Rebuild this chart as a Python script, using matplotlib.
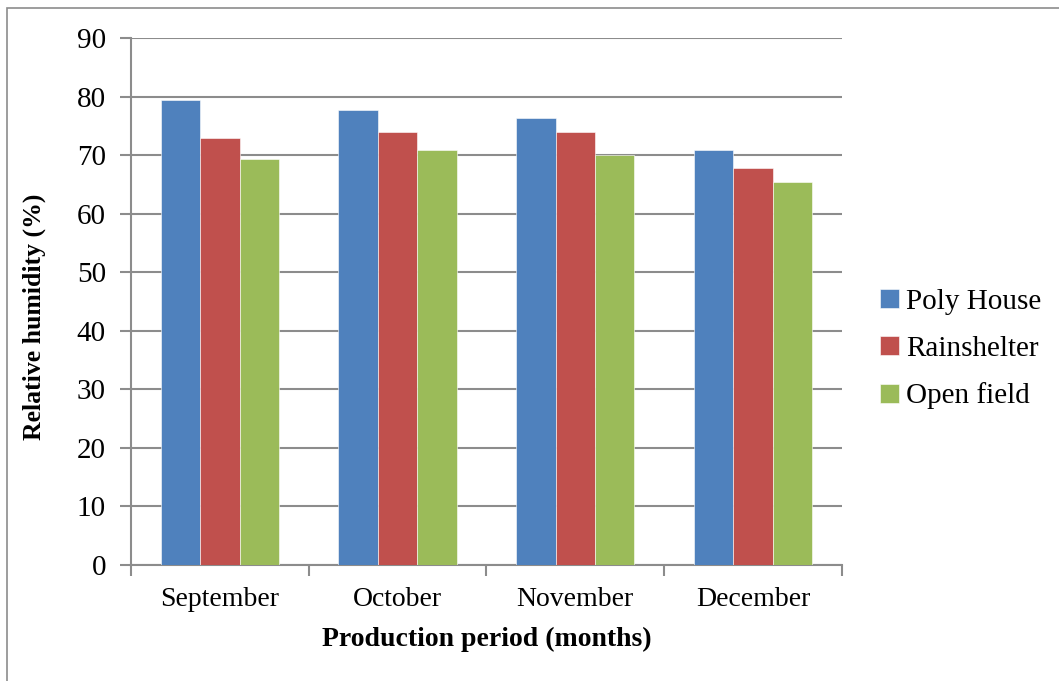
import numpy as np
import matplotlib
matplotlib.use("Agg")
import matplotlib.pyplot as plt
from matplotlib.patches import Rectangle

# Humedad relativa media por mes y tipo de cultivo
months = ["September", "October", "November", "December"]
poly_house = [79.4, 77.7, 76.4, 70.9]
rainshelter = [72.9, 74.0, 73.9, 67.9]
open_field = [69.4, 70.9, 70.0, 65.4]

series = [("Poly House", poly_house, "#4f81bd"),
          ("Rainshelter", rainshelter, "#c0504d"),
          ("Open field", open_field, "#9bbb59")]

plt.rcParams["font.family"] = ["Liberation Serif", "DejaVu Serif"]

fig = plt.figure(figsize=(10.59, 6.81), dpi=100)
ax = fig.add_axes([0.1237, 0.1703, 0.795 - 0.1237, 0.944 - 0.1703])

# Marco exterior del gráfico
fig.patches.append(Rectangle((7 / 1059, -0.1), 1.2, 1 - 8 / 681 + 0.1,
                             transform=fig.transFigure, fill=False,
                             edgecolor="#8c8c8c", linewidth=1.2))

x = np.arange(len(months))
width = 0.222
for i, (name, vals, color) in enumerate(series):
    ax.bar(x + (i - 1) * width, vals, width, color=color, label=name,
           edgecolor="white", linewidth=0.4, zorder=3)

ax.set_xlim(-0.5, len(months) - 0.5)
ax.set_ylim(0, 90)
ax.set_yticks(range(0, 91, 10))
ax.set_xticks(x)
ax.set_xticklabels(months)
ax.set_xticks(np.arange(-0.5, len(months), 1), minor=True)

ax.yaxis.grid(True, color="#8c8c8c", linewidth=1.5, zorder=0)
ax.set_axisbelow(True)
for side in ["top", "right"]:
    ax.spines[side].set_visible(False)
for side in ["left", "bottom"]:
    ax.spines[side].set_color("#8c8c8c")
    ax.spines[side].set_linewidth(1.5)

ax.tick_params(axis="y", length=8, width=1.5, color="#8c8c8c",
               labelsize=21, pad=10)
ax.tick_params(axis="x", which="major", length=0, labelsize=20, pad=16)
ax.tick_params(axis="x", which="minor", length=8, width=1.5, color="#8c8c8c")

ax.set_xlabel("Production period (months)", fontsize=20, fontweight="bold")
ax.set_ylabel("Relative humidity (%)", fontsize=18.5, fontweight="bold")
ax.xaxis.set_label_coords(0.5, -0.118)
ax.yaxis.set_label_coords(-0.12, 0.472)

ax.legend(loc="center left", bbox_to_anchor=(1.037, 0.41), frameon=False,
          fontsize=21, handlelength=0.65, handleheight=0.65, handletextpad=0.25,
          labelspacing=0.72, borderaxespad=0)

fig.savefig("out.png", dpi=100)
